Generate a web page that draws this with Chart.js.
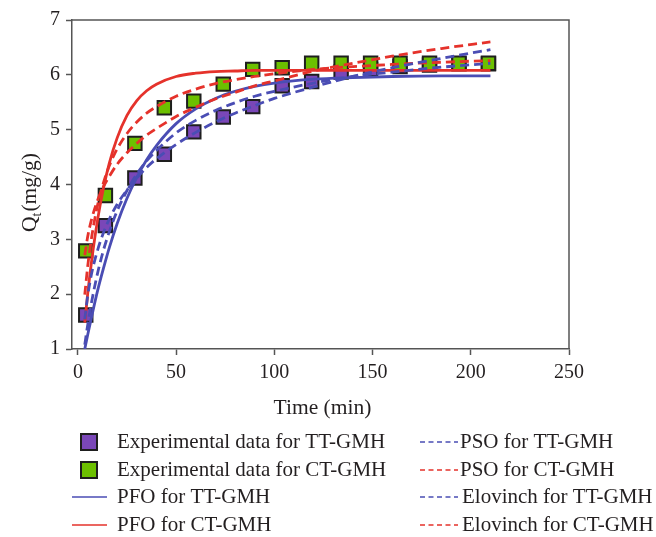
<!DOCTYPE html>
<html>
<head>
<meta charset="utf-8">
<script src="https://cdn.jsdelivr.net/npm/chart.js@4.4.1/dist/chart.umd.min.js"></script>
<style>
body { margin: 0; background: #ffffff; }
</style>
</head>
<body>
<canvas id="chart_kinetic" width="656" height="537"></canvas>
<script>
// experimental points
var exp_time = [4, 14, 29, 44, 59, 74, 89, 104, 119, 134, 149, 164, 179, 194, 209]
var exp_tt = [1.62, 3.25, 4.12, 4.55, 4.96, 5.23, 5.42, 5.80, 5.88, 6.05, 6.10, 6.15, 6.18, 6.20, 6.20]
var exp_ct = [2.79, 3.80, 4.75, 5.40, 5.52, 5.83, 6.10, 6.13, 6.21, 6.21, 6.21, 6.21, 6.21, 6.21, 6.21]

// model curves
var fit_time = [3.5, 5, 7, 10, 13, 16, 20, 25, 30, 35, 40, 50, 60, 70, 80, 90, 100, 120, 140, 160, 185, 210]
var pfo_tt = [1.00, 1.26, 1.59, 2.06, 2.47, 2.85, 3.29, 3.75, 4.13, 4.45, 4.71, 5.11, 5.38, 5.57, 5.70, 5.79, 5.85, 5.92, 5.95, 5.97, 5.98, 5.98]
var pfo_ct = [1.48, 2.01, 2.61, 3.35, 3.93, 4.39, 4.85, 5.26, 5.53, 5.71, 5.83, 5.97, 6.03, 6.06, 6.07, 6.08, 6.08, 6.08, 6.08, 6.08, 6.08, 6.08]
var pso_tt = [1.08, 1.44, 1.86, 2.38, 2.80, 3.14, 3.52, 3.89, 4.19, 4.43, 4.62, 4.94, 5.17, 5.35, 5.49, 5.61, 5.70, 5.85, 5.97, 6.05, 6.14, 6.21]
var pso_ct = [1.99, 2.51, 3.04, 3.62, 4.03, 4.34, 4.65, 4.93, 5.14, 5.30, 5.42, 5.61, 5.74, 5.84, 5.91, 5.97, 6.02, 6.10, 6.15, 6.19, 6.23, 6.26]
var elo_tt = [1.54, 1.97, 2.38, 2.80, 3.12, 3.37, 3.64, 3.90, 4.12, 4.31, 4.47, 4.73, 4.95, 5.14, 5.30, 5.44, 5.57, 5.78, 5.97, 6.13, 6.30, 6.46]
var elo_ct = [2.71, 3.05, 3.37, 3.71, 3.96, 4.15, 4.37, 4.58, 4.75, 4.90, 5.02, 5.24, 5.41, 5.56, 5.68, 5.80, 5.89, 6.07, 6.21, 6.34, 6.48, 6.60]

var x_ticks = [0, 50, 100, 150, 200, 250]
var y_ticks = [1, 2, 3, 4, 5, 6, 7]

var series_names = [
    'Experimental data for TT-GMH',
    'Experimental data for CT-GMH',
    'PFO for TT-GMH',
    'PFO for CT-GMH',
    'PSO for TT-GMH',
    'PSO for CT-GMH',
    'Elovinch for TT-GMH',
    'Elovinch for CT-GMH'
]

var FONT = "'Liberation Serif', 'Times New Roman', serif"
var INK = '#231f20'
var AXIS = '#555555'
var BLUE = '#4a4db4'
var RED = '#e5322b'

function to_xy(xs, ys) {
    return xs.map((x, i) => {
        return { x: x, y: ys[i] }
    })
}

function marker_set(label, ys, color, order) {
    return {
        label: label,
        data: to_xy(exp_time, ys),
        showLine: false,
        pointStyle: 'rect',
        pointRadius: 9.5,
        pointHoverRadius: 9.5,
        pointBackgroundColor: color,
        backgroundColor: color,
        pointBorderColor: '#1e1e1e',
        borderColor: '#1e1e1e',
        pointBorderWidth: 2,
        order: order
    }
}

function curve_set(label, ys, color, dashed, order) {
    return {
        label: label,
        data: to_xy(fit_time, ys),
        showLine: true,
        borderColor: color,
        backgroundColor: color,
        borderWidth: 2.8,
        borderDash: dashed ? [9, 5] : [],
        pointRadius: 0,
        cubicInterpolationMode: 'monotone',
        fill: false,
        order: order
    }
}

// frame, axis titles and the two-column legend
var decor_plugin = {
    id: 'decor',
    beforeDatasetsDraw: function (chart) {
        var ctx = chart.ctx
        var a = chart.chartArea
        ctx.save()
        ctx.strokeStyle = AXIS
        ctx.lineWidth = 1.5
        ctx.beginPath()
        ctx.moveTo(a.left, a.top)
        ctx.lineTo(a.right, a.top)
        ctx.lineTo(a.right, a.bottom)
        ctx.stroke()
        ctx.restore()
    },
    afterDraw: function (chart) {
        var ctx = chart.ctx
        var a = chart.chartArea
        ctx.save()
        ctx.fillStyle = INK
        ctx.textBaseline = 'middle'

        // x title
        ctx.font = '21.5px ' + FONT
        ctx.textAlign = 'center'
        ctx.fillText('Time (min)', (a.left + a.right) / 2 + 2, 408)

        // y title with subscript
        ctx.save()
        ctx.translate(30, 193)
        ctx.rotate(-Math.PI / 2)
        ctx.font = '21.5px ' + FONT
        var w_q = ctx.measureText('Q').width
        ctx.font = '14px ' + FONT
        var w_t = ctx.measureText('t').width
        ctx.font = '21.5px ' + FONT
        var w_rest = ctx.measureText('(mg/g)').width
        var x0 = -(w_q + w_t + w_rest) / 2
        ctx.textAlign = 'left'
        ctx.fillText('Q', x0, 0)
        ctx.font = '14px ' + FONT
        ctx.fillText('t', x0 + w_q, 7)
        ctx.font = '21.5px ' + FONT
        ctx.fillText('(mg/g)', x0 + w_q + w_t + 1, 0)
        ctx.restore()

        // legend
        var rows = [442, 470, 497, 525]
        var ds = chart.data.datasets
        ctx.font = '21px ' + FONT
        ctx.textAlign = 'left'
        for (var i = 0; i < 4; i++) {
            var y = rows[i]
            var left = ds[i]
            if (left.showLine === false) {
                ctx.fillStyle = left.pointBackgroundColor
                ctx.fillRect(81, y - 8, 16, 16)
                ctx.strokeStyle = left.pointBorderColor
                ctx.lineWidth = 2
                ctx.strokeRect(81, y - 8, 16, 16)
            } else {
                ctx.strokeStyle = left.borderColor
                ctx.lineWidth = 1.6
                ctx.setLineDash([])
                ctx.beginPath()
                ctx.moveTo(72, y)
                ctx.lineTo(107, y)
                ctx.stroke()
            }
            ctx.fillStyle = INK
            ctx.fillText(left.label, 117, y)

            var right = ds[i + 4]
            ctx.strokeStyle = right.borderColor
            ctx.lineWidth = 1.6
            ctx.setLineDash([5, 3.5])
            ctx.beginPath()
            ctx.moveTo(420, y)
            ctx.lineTo(458, y)
            ctx.stroke()
            ctx.setLineDash([])
            ctx.fillStyle = INK
            ctx.fillText(right.label, i < 2 ? 460 : 462, y)
        }
        ctx.restore()
    }
}

var chart_kinetic = new Chart(document.getElementById('chart_kinetic'), {
    type: 'scatter',
    data: {
        datasets: [
            marker_set(series_names[0], exp_tt, '#7a47b8', 12),
            marker_set(series_names[1], exp_ct, '#6cc000', 11),
            curve_set(series_names[2], pfo_tt, BLUE, false, 6),
            curve_set(series_names[3], pfo_ct, RED, false, 5),
            curve_set(series_names[4], pso_tt, BLUE, true, 4),
            curve_set(series_names[5], pso_ct, RED, true, 3),
            curve_set(series_names[6], elo_tt, BLUE, true, 2),
            curve_set(series_names[7], elo_ct, RED, true, 1)
        ]
    },
    options: {
        responsive: false,
        animation: false,
        layout: {
            padding: { top: 20, right: 87, left: 0, bottom: 0 }
        },
        scales: {
            x: {
                type: 'linear',
                min: -3,
                max: 250,
                afterFit: function (scale) {
                    scale.height = 188
                },
                afterBuildTicks: function (scale) {
                    scale.ticks = x_ticks.map((v) => {
                        return { value: v }
                    })
                },
                grid: {
                    drawOnChartArea: false,
                    drawTicks: true,
                    tickLength: 6,
                    tickWidth: 1.5,
                    tickColor: AXIS
                },
                border: { display: true, color: AXIS, width: 1.5 },
                ticks: {
                    color: INK,
                    padding: 6,
                    maxRotation: 0,
                    font: { family: FONT, size: 20 }
                }
            },
            y: {
                type: 'linear',
                min: 1,
                max: 7,
                afterFit: function (scale) {
                    scale.width = 72
                },
                afterBuildTicks: function (scale) {
                    scale.ticks = y_ticks.map((v) => {
                        return { value: v }
                    })
                },
                grid: {
                    drawOnChartArea: false,
                    drawTicks: true,
                    tickLength: 6,
                    tickWidth: 1.5,
                    tickColor: AXIS
                },
                border: { display: true, color: AXIS, width: 1.5 },
                ticks: {
                    color: INK,
                    padding: 6,
                    font: { family: FONT, size: 20 }
                }
            }
        },
        plugins: {
            legend: { display: false },
            tooltip: { enabled: false }
        }
    },
    plugins: [decor_plugin]
})
</script>
</body>
</html>
